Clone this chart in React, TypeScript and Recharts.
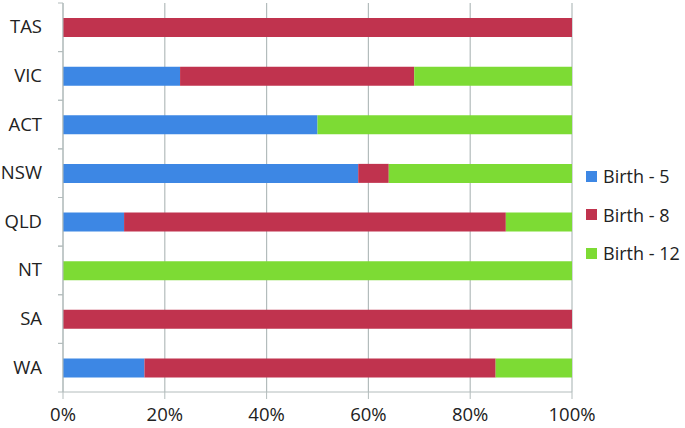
import { Bar, BarChart, CartesianGrid, Legend, XAxis, YAxis } from "recharts";

const states = ["TAS", "VIC", "ACT", "NSW", "QLD", "NT", "SA", "WA"];
const birth5 = [0, 23, 50, 58, 12, 0, 0, 16];
const birth8 = [100, 46, 0, 6, 75, 0, 100, 69];
const birth12 = [0, 31, 50, 36, 13, 100, 0, 15];
const xTicks = [0, 20, 40, 60, 80, 100];

const series = [
  { key: "b5", name: "Birth - 5", color: "#3d87e4" },
  { key: "b8", name: "Birth - 8", color: "#c0334e" },
  { key: "b12", name: "Birth - 12", color: "#7ddb34" },
];

const data = states.map((state, i) => ({
  state,
  b5: birth5[i],
  b8: birth8[i],
  b12: birth12[i],
}));

const gridColor = "#b3bcbc";
const font = "'Open Sans', sans-serif";

// left axis ticks sit on the band edges, labels in the middle
function StateTick(props: any) {
  const { x, y, payload } = props;
  const half = payload?.offset ?? 24;
  return (
    <g>
      <line x1={x + 3} x2={x + 8} y1={y - half} y2={y - half} stroke={gridColor} />
      <line x1={x + 3} x2={x + 8} y1={y + half} y2={y + half} stroke={gridColor} />
      <text x={x - 13} y={y} dy={6} textAnchor="end" fontSize={18.5} fill="#222" fontFamily={font}>
        {payload.value}
      </text>
    </g>
  );
}

function LegendBox() {
  return (
    <div style={{ paddingLeft: 14, marginTop: 1, fontFamily: font }}>
      {series.map((s) => (
        <div key={s.key} style={{ display: "flex", alignItems: "center", height: 38.5 }}>
          <span style={{ width: 11, height: 11, flexShrink: 0, background: s.color, marginRight: 6 }} />
          <span style={{ fontSize: 18, color: "#222", whiteSpace: "nowrap" }}>{s.name}</span>
        </div>
      ))}
    </div>
  );
}

export default function App() {
  return (
    <div style={{ position: "fixed", left: 0, top: 0, background: "#fff" }}>
      <BarChart
        width={685}
        height={428}
        data={data}
        layout="vertical"
        margin={{ top: 3, right: 13, bottom: 0, left: 0 }}
      >
        <CartesianGrid horizontal={false} stroke={gridColor} strokeWidth={1.2} />
        <XAxis
          type="number"
          domain={[0, 100]}
          ticks={xTicks}
          tickFormatter={(v) => `${v}%`}
          stroke={gridColor}
          tickSize={7}
          tickMargin={9}
          height={36}
          tick={{ fill: "#222", fontSize: 18.5, fontFamily: font }}
        />
        <YAxis
          type="category"
          dataKey="state"
          width={63}
          stroke={gridColor}
          tickLine={false}
          tick={<StateTick />}
        />
        <Legend
          layout="vertical"
          align="right"
          verticalAlign="middle"
          wrapperStyle={{ width: 100 }}
          content={<LegendBox />}
        />
        {series.map((s) => (
          <Bar
            key={s.key}
            dataKey={s.key}
            name={s.name}
            stackId="a"
            fill={s.color}
            barSize={19}
            isAnimationActive={false}
          />
        ))}
      </BarChart>
    </div>
  );
}
